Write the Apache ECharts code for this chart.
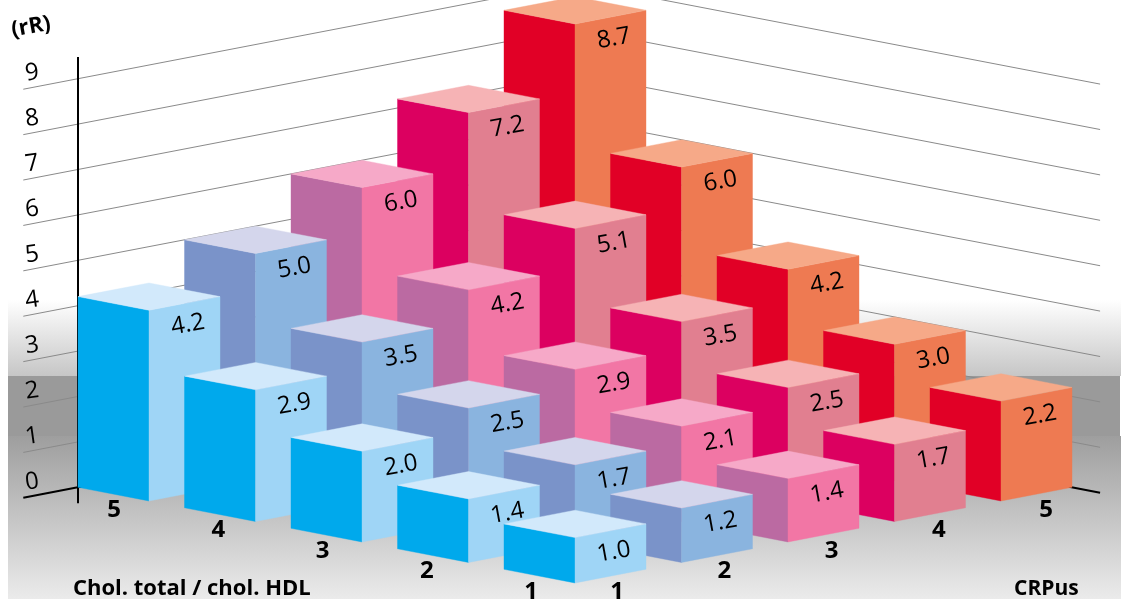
<!DOCTYPE html>
<html>
<head>
<meta charset="utf-8">
<style>html,body{margin:0;padding:0;background:#fff}#chart{width:1125px;height:599px}</style>
<script src="https://cdn.jsdelivr.net/npm/echarts@6/dist/echarts.min.js"></script>
</head>
<body>
<div id="chart"></div>
<script>
// Relative risk by CRPus level and total/HDL cholesterol ratio
const cholLevels = [5, 4, 3, 2, 1];
const crpLevels = [1, 2, 3, 4, 5];
const riskChol5 = [4.2, 5.0, 6.0, 7.2, 8.7];
const riskChol4 = [2.9, 3.5, 4.2, 5.1, 6.0];
const riskChol3 = [2.0, 2.5, 2.9, 3.5, 4.2];
const riskChol2 = [1.4, 1.7, 2.1, 2.5, 3.0];
const riskChol1 = [1.0, 1.2, 1.4, 1.7, 2.2];
const riskRows = [riskChol5, riskChol4, riskChol3, riskChol2, riskChol1];
const riskTicks = [0, 1, 2, 3, 4, 5, 6, 7, 8, 9];

// Face colours per CRPus level: left wall, right wall, lid
const crpFaces = {
  1: ['#00a9ec', '#9fd5f6', '#d2e9fb'],
  2: ['#7a93c9', '#8ab4df', '#d4d6ec'],
  3: ['#bb6aa2', '#f276a5', '#f6a9c8'],
  4: ['#dc0060', '#e17f90', '#f6b3b5'],
  5: ['#e10026', '#ee7a52', '#f6a988']
};

// Oblique projection: the plot's x axis carries (crp - chol), its y axis carries
// height plus the rise caused by depth into the scene.
const UNIT_X = 106.5, UNIT_Y = 45.4, DEPTH_RISE = 20.5 / UNIT_Y;
const ORIGIN_X = 575, ORIGIN_Y = 569.3, W = 1125, H = 599;
const HALF = 1 / 3;
const project = (chol, crp, h) => [crp - chol, h + (chol + crp - 2) * DEPTH_RISE];

const BACK = 5 + HALF;
const FONT = '"Open Sans", sans-serif';

// Bars are listed back to front so nearer ones paint over farther ones
const barData = [];
cholLevels.forEach((chol, i) => {
  for (let j = crpLevels.length - 1; j >= 0; j--) {
    barData.push([chol, crpLevels[j], riskRows[i][j]]);
  }
});

function renderBar(params, api) {
  const c = api.value(0), r = api.value(1), v = api.value(2);
  const pt = (dc, dr, h) => api.coord(project(c + dc, r + dr, h));
  const left = [HALF, -HALF], right = [-HALF, HALF], front = [-HALF, -HALF], back = [HALF, HALF];
  const [cl, cr, ct] = crpFaces[r];
  const face = (points, color) => ({
    type: 'polygon',
    shape: { points },
    style: { fill: color, stroke: color, lineWidth: 0.4 }
  });
  const topFront = pt(front[0], front[1], v);
  return {
    type: 'group',
    children: [
      face([pt(left[0], left[1], 0), pt(front[0], front[1], 0), topFront, pt(left[0], left[1], v)], cl),
      face([pt(front[0], front[1], 0), pt(right[0], right[1], 0), pt(right[0], right[1], v), topFront], cr),
      face([pt(left[0], left[1], v), topFront, pt(right[0], right[1], v), pt(back[0], back[1], v)], ct),
      {
        type: 'text',
        x: topFront[0] + 39,
        y: topFront[1] + 14.5,
        rotation: 0.18,
        style: {
          text: v.toFixed(1),
          font: '24px ' + FONT,
          fill: '#000',
          align: 'center',
          verticalAlign: 'middle'
        }
      }
    ]
  };
}

// Back walls: one bent rule per risk tick, running along both far edges of the floor
function renderWallRule(params, api) {
  const k = api.value(0);
  const points = [
    api.coord(project(BACK, 0.153, k)),
    api.coord(project(BACK, BACK, k)),
    api.coord(project(0.403, BACK, k))
  ];
  return {
    type: 'polyline',
    shape: { points },
    style: k === 0
      ? { fill: 'none', stroke: '#000', lineWidth: 2 }
      : { fill: 'none', stroke: '#8a8a8a', lineWidth: 1 }
  };
}

function renderRiskAxis(params, api) {
  const a = api.coord(project(BACK, HALF * 2, 9.48));
  const b = api.coord(project(BACK, HALF * 2, -0.35));
  return {
    type: 'line',
    shape: { x1: a[0], y1: a[1], x2: b[0], y2: b[1] },
    style: { stroke: '#000', lineWidth: 2 }
  };
}

// Level numbers on the floor, one set along each front edge
function renderFloorLabel(params, api) {
  const side = api.value(0), level = api.value(1);
  const p = side === 0
    ? api.coord(project(level, 1, 0))
    : api.coord(project(1, level, 0));
  const dx = side === 0 ? -44 + (level - 1) * 2.25 : 42 + (level - 1) * 0.75;
  return {
    type: 'text',
    x: p[0] + dx,
    y: p[1] + 22.5,
    style: {
      text: String(level),
      font: 'bold 24px ' + FONT,
      fill: '#000',
      align: 'center',
      verticalAlign: 'middle'
    }
  };
}

const floorLabels = cholLevels.map(l => [0, l]).concat(crpLevels.map(l => [1, l]));

const chart = echarts.init(document.getElementById('chart'), null, { renderer: 'canvas' });
chart.setOption({
  animation: false,
  backgroundColor: '#fff',
  grid: [
    { left: 0, top: 0, width: W, height: H },
    { left: 40, top: 72, width: 10, height: 409 }
  ],
  xAxis: [
    { type: 'value', gridIndex: 0, show: false, min: -ORIGIN_X / UNIT_X, max: (W - ORIGIN_X) / UNIT_X },
    { type: 'value', gridIndex: 1, show: false, min: 0, max: 1 }
  ],
  yAxis: [
    { type: 'value', gridIndex: 0, show: false, min: (ORIGIN_Y - H) / UNIT_Y, max: ORIGIN_Y / UNIT_Y },
    {
      type: 'value',
      gridIndex: 1,
      min: riskTicks[0],
      max: riskTicks[riskTicks.length - 1],
      interval: 1,
      axisLine: { show: false },
      axisTick: { show: false },
      splitLine: { show: false },
      axisLabel: { margin: 1, rotate: 8, color: '#000', fontFamily: 'Open Sans', fontSize: 24 }
    }
  ],
  graphic: [
    {
      type: 'rect', z: -10, silent: true,
      shape: { x: 8, y: 300, width: 1113, height: 76 },
      style: { fill: new echarts.graphic.LinearGradient(0, 0, 0, 1, [
        { offset: 0, color: '#ffffff' }, { offset: 1, color: '#c6c6c6' }
      ]) }
    },
    {
      type: 'rect', z: -10, silent: true,
      shape: { x: 8, y: 376, width: 1112, height: 60 },
      style: { fill: '#9a9a9a' }
    },
    {
      type: 'rect', z: -10, silent: true,
      shape: { x: 8, y: 436, width: 1113, height: 163 },
      style: { fill: new echarts.graphic.LinearGradient(0, 0, 0, 1, [
        { offset: 0, color: '#9e9e9e' }, { offset: 1, color: '#ebebeb' }
      ]) }
    },
    {
      type: 'text', z: 20, x: 31, y: 27, rotation: 0.18,
      style: { text: '(rR)', font: 'bold 22px ' + FONT, fill: '#000', align: 'center', verticalAlign: 'middle' }
    },
    {
      type: 'text', z: 20, x: 73, y: 589,
      style: { text: 'Chol. total / chol. HDL', font: 'bold 22px ' + FONT, fill: '#000', align: 'left', verticalAlign: 'middle' }
    },
    {
      type: 'text', z: 20, x: 1014, y: 589,
      style: { text: 'CRPus', font: 'bold 21px ' + FONT, fill: '#000', align: 'left', verticalAlign: 'middle' }
    }
  ],
  series: [
    { type: 'custom', z: 1, xAxisIndex: 0, yAxisIndex: 0, clip: false, silent: true,
      renderItem: renderWallRule, data: riskTicks.map(k => [k]) },
    { type: 'custom', z: 2, xAxisIndex: 0, yAxisIndex: 0, clip: false, silent: true,
      renderItem: renderRiskAxis, data: [[0]] },
    { type: 'custom', z: 3, xAxisIndex: 0, yAxisIndex: 0, clip: false, silent: true,
      renderItem: renderBar, data: barData },
    { type: 'custom', z: 4, xAxisIndex: 0, yAxisIndex: 0, clip: false, silent: true,
      renderItem: renderFloorLabel, data: floorLabels }
  ]
});
</script>
</body>
</html>
